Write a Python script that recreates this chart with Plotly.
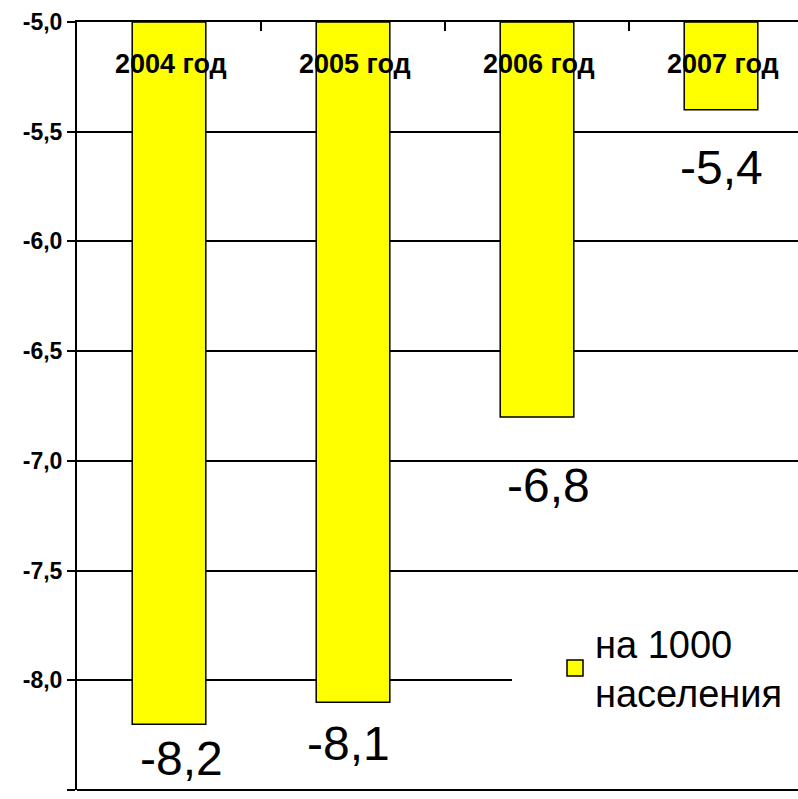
import plotly.graph_objects as go

categories = ["2004 год", "2005 год", "2006 год", "2007 год"]
values = [-8.2, -8.1, -6.8, -5.4]
series_name = "на 1000<br>населения"
base_value = -5.0
y_ticks = [-8.5, -8.0, -7.5, -7.0, -6.5, -6.0, -5.5, -5.0]

# label placement styling (pixels)
label_xshift = [12, -5, 11, 0]
label_yshift = [-34, -41, -69, -58]

W, H = 798, 799
ML, MR, MT, MB = 77, 0, 22, 9
FONT = "Liberation Sans, Arial, sans-serif"
pw = W - ML - MR
ph = H - MT - MB

fig = go.Figure()
fig.add_trace(go.Bar(
    x=list(range(len(categories))),
    y=[v - base_value for v in values],
    base=base_value,
    width=0.40,
    marker=dict(color="#FFFF00", line=dict(color="black", width=1.5)),
    name=series_name,
    showlegend=False,
    hoverinfo="skip",
))
# legend entry (larger square symbol)
fig.add_trace(go.Scatter(
    x=[None], y=[None], mode="markers", name=series_name,
    marker=dict(symbol="square", size=16, color="#FFFF00",
                line=dict(color="black", width=1.5)),
    showlegend=True, hoverinfo="skip",
))

for i, v in enumerate(values):
    fig.add_annotation(
        x=i, y=v, xref="x", yref="y",
        text=f"{v:.1f}".replace(".", ","),
        showarrow=False, yanchor="middle", xanchor="center",
        xshift=label_xshift[i], yshift=label_yshift[i],
        font=dict(family=FONT, size=48, color="black"),
    )

for i, c in enumerate(categories):
    fig.add_annotation(
        x=i, y=1.0, xref="x", yref="paper",
        text=f"<b>{c}</b>",
        showarrow=False, yanchor="middle", xanchor="center",
        xshift=2, yshift=-42,
        font=dict(family=FONT, size=27, color="black"),
    )

# white box behind legend covering gridlines
fig.add_shape(type="rect", xref="paper", yref="paper",
              x0=(512 - ML) / pw, x1=1.0,
              y0=(H - MB - 770) / ph, y1=(H - MB - 600) / ph,
              fillcolor="white", line=dict(width=0), layer="above")

# bottom border line at -8.5
fig.add_shape(type="line", xref="paper", yref="paper", x0=0, x1=1, y0=0, y1=0,
              line=dict(color="black", width=2), layer="above")

# tick marks between categories on the top axis
for b in [0.5, 1.5, 2.5, 3.5]:
    fig.add_shape(type="line", xref="x", yref="paper", x0=b, x1=b,
                  y0=1.0, y1=1.0 - 9 / ph,
                  line=dict(color="black", width=2))

fig.update_layout(
    width=W, height=H,
    margin=dict(l=ML, r=MR, t=MT, b=MB, pad=0, autoexpand=False),
    paper_bgcolor="white", plot_bgcolor="white",
    separators=", ",
    font=dict(family=FONT, color="black"),
    legend=dict(
        x=(555 - ML) / pw, y=(H - MB - 612) / ph,
        xanchor="left", yanchor="top",
        bgcolor="white", borderwidth=0,
        font=dict(family=FONT, size=38, color="black"),
    ),
    xaxis=dict(
        side="top",
        range=[-0.5, -0.5 + pw / 184.0],
        showticklabels=False,
        showgrid=False, zeroline=False,
        showline=True, linecolor="black", linewidth=2,
        ticks="", automargin=False,
    ),
    yaxis=dict(
        range=[-8.5, -5.0],
        tickmode="array",
        tickvals=y_ticks,
        ticktext=[f"<b>{t:.1f}</b>".replace(".", ",") for t in y_ticks],
        tickfont=dict(family=FONT, size=23, color="black"),
        ticks="outside", ticklen=8, tickcolor="black", tickwidth=2,
        showgrid=True, gridcolor="black", gridwidth=1.5,
        zeroline=False, automargin=False,
        showline=True, linecolor="black", linewidth=2,
    ),
)

fig.write_html("out.html",
               config={"displayModeBar": False},
               post_script="document.body.style.margin='0';document.body.style.overflow='hidden';")
